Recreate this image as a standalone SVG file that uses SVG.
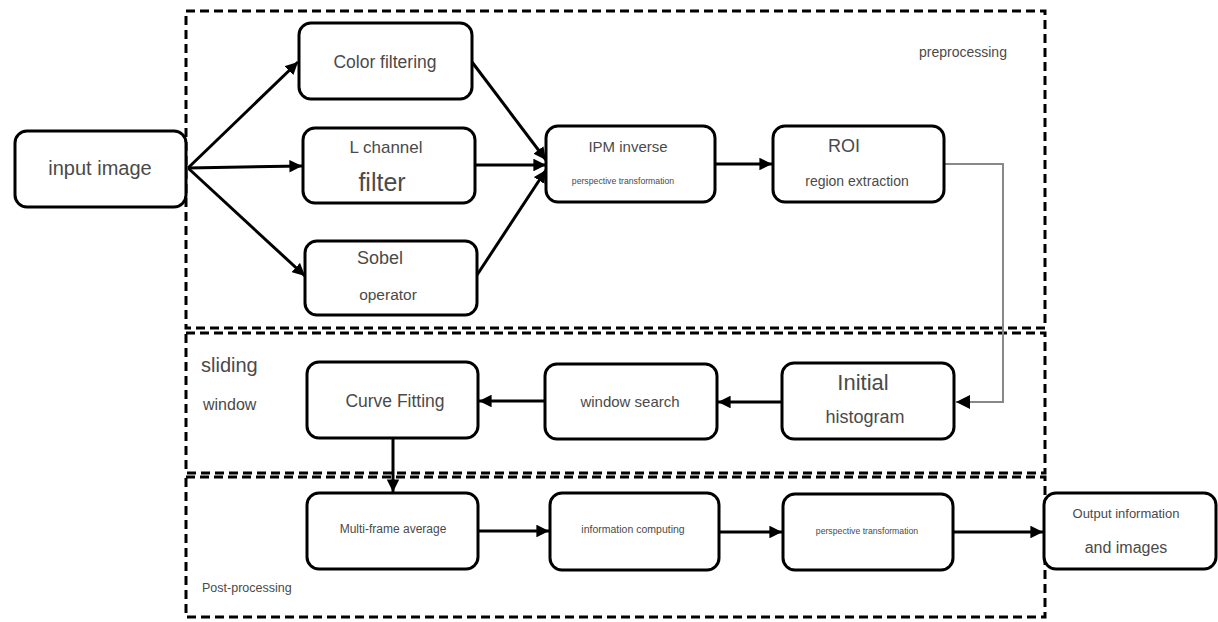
<svg xmlns="http://www.w3.org/2000/svg" width="1218" height="622" viewBox="0 0 1218 622">
<style>
.region{fill:none;stroke:#000;stroke-width:3;stroke-dasharray:9 5}
.box{fill:#fff;stroke:#000;stroke-width:3}
.t{font-family:"Liberation Sans",Arial,sans-serif;fill:#4a4a4a;text-anchor:middle;dominant-baseline:central}
.tl{font-family:"Liberation Sans",Arial,sans-serif;fill:#4a4a4a;dominant-baseline:central}
.c{fill:none;stroke:#000;stroke-width:3}
.g{fill:none;stroke:#888;stroke-width:2}
</style>
<defs>
<marker id="ah" viewBox="0 0 10 10" refX="10" refY="5" markerWidth="4.2" markerHeight="4.2" markerUnits="strokeWidth" orient="auto">
<path d="M0,0 L10,5 L0,10 z" fill="#000"/>
</marker>
<marker id="ahg" viewBox="0 0 10 10" refX="10" refY="5" markerWidth="7" markerHeight="7" markerUnits="strokeWidth" orient="auto">
<path d="M0,0 L10,5 L0,10 z" fill="#000"/>
</marker>
</defs>
<rect width="1218" height="622" fill="#fff"/>
<g id="regions">
<rect class="region" x="186" y="11" width="859" height="317"/>
<rect class="region" x="186" y="333" width="859" height="140"/>
<rect class="region" x="186" y="477" width="859" height="140"/>
<text class="tl" x="919" y="52" font-size="14">preprocessing</text>
<text class="tl" x="201" y="365" font-size="20">sliding</text>
<text class="tl" x="203" y="404" font-size="16">window</text>
<text class="tl" x="202" y="588" font-size="12.5">Post-processing</text>
</g>
<g id="connectors">
<line class="c" x1="188" y1="168" x2="298" y2="62" marker-end="url(#ah)"/>
<line class="c" x1="188" y1="168" x2="302" y2="166" marker-end="url(#ah)"/>
<line class="c" x1="188" y1="168" x2="305" y2="276" marker-end="url(#ah)"/>
<line class="c" x1="472" y1="62" x2="546" y2="160" marker-end="url(#ah)"/>
<line class="c" x1="475" y1="165" x2="546" y2="165" marker-end="url(#ah)"/>
<line class="c" x1="477" y1="275" x2="546" y2="170" marker-end="url(#ah)"/>
<line class="c" x1="715" y1="164" x2="772" y2="164" marker-end="url(#ah)"/>
<polyline class="g" points="945,164 1003,164 1003,402 956,402" marker-end="url(#ahg)"/>
<line class="c" x1="782" y1="402" x2="718" y2="402" marker-end="url(#ah)"/>
<line class="c" x1="545" y1="401" x2="479" y2="401" marker-end="url(#ah)"/>
<line class="c" x1="393" y1="438" x2="393" y2="492" marker-end="url(#ah)"/>
<line class="c" x1="478" y1="531" x2="549" y2="531" marker-end="url(#ah)"/>
<line class="c" x1="719" y1="532" x2="782" y2="532" marker-end="url(#ah)"/>
<line class="c" x1="953" y1="532" x2="1043" y2="532" marker-end="url(#ah)"/>
</g>
<g id="input-image">
<rect class="box" x="15" y="131" width="171" height="76" rx="12"/>
<text class="t" x="100" y="168" font-size="20">input image</text>
</g>
<g id="color-filtering">
<rect class="box" x="299" y="23" width="173" height="76" rx="12"/>
<text class="t" x="385" y="62" font-size="17.5">Color filtering</text>
</g>
<g id="l-channel">
<rect class="box" x="303" y="128" width="172" height="75" rx="12"/>
<text class="t" x="386" y="147" font-size="17">L channel</text>
<text class="t" x="382" y="182" font-size="25">filter</text>
</g>
<g id="sobel">
<rect class="box" x="305" y="241" width="172" height="74" rx="12"/>
<text class="t" x="380" y="258" font-size="18">Sobel</text>
<text class="t" x="388" y="294" font-size="15.5">operator</text>
</g>
<g id="ipm">
<rect class="box" x="546" y="126" width="169" height="76" rx="12"/>
<text class="t" x="628" y="146" font-size="15">IPM inverse</text>
<text class="t" x="623" y="181" font-size="8.7">perspective transformation</text>
</g>
<g id="roi">
<rect class="box" x="773" y="126" width="171" height="76" rx="12"/>
<text class="t" x="844" y="146" font-size="18">ROI</text>
<text class="t" x="857" y="181" font-size="14">region extraction</text>
</g>
<g id="initial-histogram">
<rect class="box" x="782" y="363" width="172" height="76" rx="12"/>
<text class="t" x="863" y="382" font-size="22">Initial</text>
<text class="t" x="865" y="417" font-size="18">histogram</text>
</g>
<g id="window-search">
<rect class="box" x="545" y="364" width="172" height="75" rx="12"/>
<text class="t" x="630" y="401" font-size="15">window search</text>
</g>
<g id="curve-fitting">
<rect class="box" x="307" y="362" width="171" height="76" rx="12"/>
<text class="t" x="395" y="401" font-size="17.5">Curve Fitting</text>
</g>
<g id="multi-frame">
<rect class="box" x="307" y="493" width="171" height="76" rx="12"/>
<text class="t" x="393" y="529" font-size="12">Multi-frame average</text>
</g>
<g id="info-computing">
<rect class="box" x="550" y="493" width="169" height="77" rx="12"/>
<text class="t" x="633" y="529" font-size="10.5">information computing</text>
</g>
<g id="persp-transform">
<rect class="box" x="783" y="494" width="170" height="76" rx="12"/>
<text class="t" x="867" y="531" font-size="8.7">perspective transformation</text>
</g>
<g id="output">
<rect class="box" x="1044" y="493" width="172" height="76" rx="12"/>
<text class="t" x="1126" y="513" font-size="13">Output information</text>
<text class="t" x="1126" y="547" font-size="16">and images</text>
</g>
</svg>
